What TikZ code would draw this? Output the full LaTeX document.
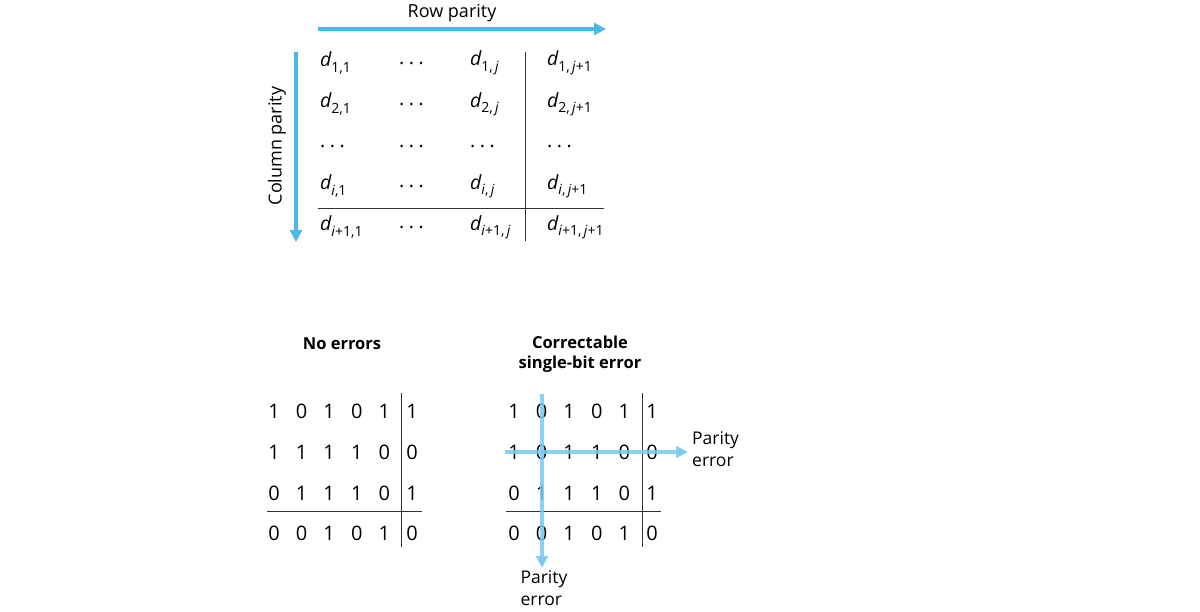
\documentclass[tikz,border=0pt]{standalone}
\usepackage{fontspec}
\setmainfont{Open Sans}
\usetikzlibrary{arrows.meta}
\definecolor{arrblue}{RGB}{76,184,234}
\definecolor{arrlight}{RGB}{120,200,240}
\newcommand\dv[1]{{\itshape d}\raisebox{-0.28em}{\fontsize{14}{14}\selectfont #1}}
\newcommand\dts{.\hspace{4.5pt}.\hspace{4.5pt}.}
\tikzset{
  lbl/.style={font=\fontsize{18}{22}\selectfont, inner sep=0pt},
  hd/.style={font=\fontsize{16.5}{20}\selectfont\bfseries, inner sep=0pt, align=center},
  dcell/.style={font=\fontsize{19.5}{22}\selectfont, anchor=west, inner sep=0pt},
  bit/.style={font=\fontsize{20}{24}\selectfont, inner sep=0pt},
  rule/.style={line width=0.9pt, draw=black!80},
  bigarrow/.style={line width=4pt, draw=arrblue, -{Triangle[length=12pt,width=12pt]}},
  errarrow/.style={line width=4pt, draw=arrlight, draw opacity=0.85, -{Triangle[length=12pt,width=12pt]}},
}
\begin{document}
\begin{tikzpicture}[x=1pt,y=-1pt]
\useasboundingbox (0,0) rectangle (1200,611);
% top matrix
\node[lbl] (rowlbl) at (452,13) {Row parity};
\coordinate (ra) at (318,29); \coordinate (rb) at (606,29);
\draw[bigarrow] (ra) -- (rb);
\coordinate (ca) at (296,52); \coordinate (cb) at (296,242);
\draw[bigarrow] (ca) -- (cb);
\node[lbl, rotate=90] (collbl) at (277,146) {Column parity};
% rows
\node[dcell] (a11) at (320,63) {\dv{1,1}};
\node[dcell] (a12) at (399,63) {\dts};
\node[dcell] (a13) at (470,63) {\dv{1,\,\textit{j}}};
\node[dcell] (a14) at (547,63) {\dv{1,\,\textit{j}+1}};
\node[dcell] (a21) at (320,104) {\dv{2,1}};
\node[dcell] (a22) at (399,104) {\dts};
\node[dcell] (a23) at (470,104) {\dv{2,\,\textit{j}}};
\node[dcell] (a24) at (547,104) {\dv{2,\,\textit{j}+1}};
\node[dcell] (a31) at (320,146) {\dts};
\node[dcell] (a32) at (399,146) {\dts};
\node[dcell] (a33) at (470,146) {\dts};
\node[dcell] (a34) at (547,146) {\dts};
\node[dcell] (a41) at (320,186) {\dv{\textit{i},1}};
\node[dcell] (a42) at (399,186) {\dts};
\node[dcell] (a43) at (470,186) {\dv{\textit{i},\,\textit{j}}};
\node[dcell] (a44) at (547,186) {\dv{\textit{i},\,\textit{j}+1}};
\node[dcell] (a51) at (320,227) {\dv{\textit{i}+1,1}};
\node[dcell] (a52) at (399,227) {\dts};
\node[dcell] (a53) at (470,227) {\dv{\textit{i}+1,\,\textit{j}}};
\node[dcell] (a54) at (547,227) {\dv{\textit{i}+1,\,\textit{j}+1}};
\coordinate (tv1) at (525,52); \coordinate (tv2) at (525,241);
\draw[rule] (tv1) -- (tv2);
\coordinate (th1) at (318,208); \coordinate (th2) at (604,208);
\draw[rule] (th1) -- (th2);
% No errors
\node[hd] (noerr) at (342,344) {No errors};
\foreach \r/\y/\vals in {1/411/{1,0,1,0,1,1},2/452/{1,1,1,1,0,0},3/493/{0,1,1,1,0,1},4/533/{0,0,1,0,1,0}}{
  \foreach \v [count=\c] in \vals {
    \pgfmathsetmacro\xx{274+27.6*(\c-1)}
    \node[bit] (L\r\c) at (\xx,\y) {\v};
  }
}
\coordinate (lv1) at (401,393); \coordinate (lv2) at (401,547);
\draw[rule] (lv1) -- (lv2);
\coordinate (lh1) at (267,511); \coordinate (lh2) at (422,511);
\draw[rule] (lh1) -- (lh2);
% Correctable
\node[hd] (corr) at (580,354) {Correctable\\single-bit error};
\foreach \r/\y/\vals in {1/411/{1,0,1,0,1,1},2/452/{1,0,1,1,0,0},3/493/{0,1,1,1,0,1},4/533/{0,0,1,0,1,0}}{
  \foreach \v [count=\c] in \vals {
    \pgfmathsetmacro\xx{514+27.6*(\c-1)}
    \node[bit] (R\r\c) at (\xx,\y) {\v};
  }
}
\coordinate (rv1) at (642,393); \coordinate (rv2) at (642,547);
\draw[rule] (rv1) -- (rv2);
\coordinate (rh1) at (506,511); \coordinate (rh2) at (661,511);
\draw[rule] (rh1) -- (rh2);
\coordinate (eh1) at (505,452); \coordinate (eh2) at (688,452);
\draw[errarrow] (eh1) -- (eh2);
\coordinate (ev1) at (542,394); \coordinate (ev2) at (542,568);
\draw[errarrow] (ev1) -- (ev2);
\node[lbl, font=\fontsize{17.5}{22}\selectfont, anchor=west, align=left] (perr1) at (692,449) {Parity\\error};
\node[lbl, font=\fontsize{17.5}{22}\selectfont, align=left] (perr2) at (544,588) {Parity\\error};
\end{tikzpicture}
\end{document}
